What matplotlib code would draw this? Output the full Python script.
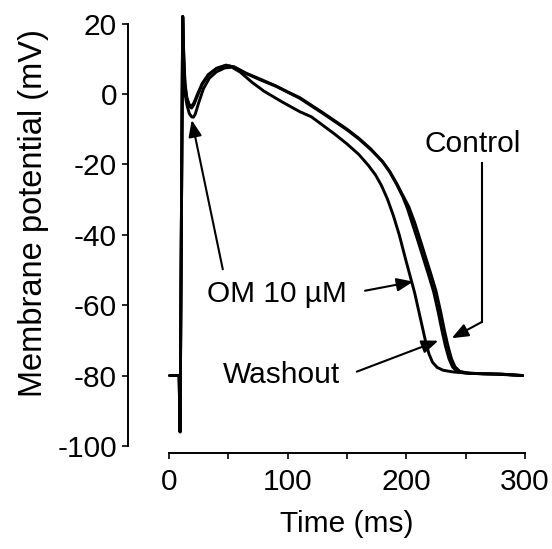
import matplotlib
matplotlib.use("Agg")
import matplotlib.pyplot as plt

plt.rcParams["font.family"] = ["Liberation Sans", "DejaVu Sans"]
plt.rcParams["font.size"] = 21.5
plt.rcParams["axes.unicode_minus"] = False

# action potential traces (ms, mV)
t_ctrl = [0.5, 8.5, 9.3, 11.5, 12.5, 13.5, 15, 17, 19, 21, 24, 28, 33, 40, 48, 55, 65, 77, 90, 100,
          110, 120, 130, 140, 150, 160, 170, 180, 186, 192, 197, 202, 207, 212, 217, 221, 225, 229,
          232, 235, 238, 241, 245, 252, 265, 280, 298]
v_ctrl = [-80, -80, -96, 22, 10, 3, -1, -3, -3.5, -2.5, 0, 3, 5.5, 7.3, 8.2, 7.6, 5.8, 4.0, 2.2, 0.5,
          -1.2, -3.4, -5.6, -7.9, -10.2, -12.8, -15.8, -19.2, -22.0, -25.5, -28.8, -32, -36.5, -41.8,
          -47.2, -51.5, -56, -62, -67, -71.5, -75.2, -77.5, -78.8, -79.3, -79.5, -79.6, -80]

t_wash = [0.5, 8.5, 9.3, 11.5, 12.5, 13.5, 15, 17, 19, 21, 24, 28, 33, 40, 48, 55, 65, 77, 90, 100,
          110, 120, 130, 140, 150, 160, 170, 180, 186, 192, 197, 201, 205, 210, 215, 219, 223,
          227, 230, 233, 236, 239, 243, 250, 265, 280, 298]
v_wash = [-80, -80, -96, 22, 9, 2, -1.5, -3.5, -4, -3, -0.5, 2.8, 5.3, 7.2, 8.1, 7.7, 5.9, 4.2, 2.3, 0.6,
          -1.0, -3.2, -5.4, -7.7, -10.0, -12.6, -15.6, -19.3, -22.2, -25.8, -29.2, -32.6, -36.8, -42,
          -47.4, -51.7, -56.2, -62.2, -67.2, -71.7, -75.3, -77.6, -78.9, -79.3, -79.5, -79.6, -80]

t_om = [0.5, 8.5, 9.3, 11.5, 12.5, 13.5, 15, 17, 19, 20.5, 22, 25, 29, 34, 40, 47, 53, 60, 70, 80,
        95, 110, 120, 130, 140, 150, 160, 168, 174, 179, 184, 189, 194, 199, 203, 207, 210, 213,
        216, 219, 222, 226, 231, 240, 255, 275, 298]
v_om = [-80, -80, -96, 22, 8, 0, -3, -5.5, -6.5, -6.6, -5.8, -2.5, 1.5, 4.5, 6.3, 7.4, 7.6, 6.2, 3.3, 0.8,
        -2.2, -5.0, -6.5, -9.0, -11.5, -14.2, -17.2, -20.3, -23, -26, -29.8, -34.5, -40, -46.5, -51.5,
        -56.5, -61, -65.5, -70, -73.8, -76.2, -77.7, -78.5, -79, -79.4, -79.6, -80]

xticks = [0, 100, 200, 300]
yticks = [20, 0, -20, -40, -60, -80, -100]

fig = plt.figure(figsize=(5.52, 5.49), dpi=100)
ax = fig.add_axes([0.2310, 0.1749, 0.7201, 0.8078])

for t, v in [(t_ctrl, v_ctrl), (t_wash, v_wash), (t_om, v_om)]:
    ax.plot(t, v, color="black", lw=2.1, solid_joinstyle="round", solid_capstyle="round", clip_on=False)

ax.set_xlim(-35, 300)
ax.set_ylim(-102, 24)
ax.spines["top"].set_visible(False)
ax.spines["right"].set_visible(False)
ax.spines["left"].set_bounds(-100, 20)
ax.spines["bottom"].set_bounds(0, 300)
ax.spines["left"].set_linewidth(1.4)
ax.spines["bottom"].set_linewidth(1.4)
ax.set_xticks(xticks)
ax.set_xticks(range(0, 301, 50), minor=True)
ax.set_yticks(yticks)
ax.tick_params(axis="y", direction="out", length=4, width=1.2, pad=3.5)
ax.tick_params(axis="x", which="both", direction="out", length=4.5, width=1.2, pad=6)

ax.set_xlabel("Time (ms)")
ax.xaxis.set_label_coords(0.552, -0.129)
ax.set_ylabel("Membrane potential (mV)", fontsize=23.5)
ax.yaxis.set_label_coords(-0.1975, 0.542)

arrow = dict(arrowstyle="-|>,head_length=0.5,head_width=0.2", color="black", lw=1.5,
             mutation_scale=20, shrinkA=0, shrinkB=0)

ax.text(31.8, -59.0, "OM 10 µM", ha="left", va="baseline")
ax.annotate("", xy=(19.1, -7.4), xytext=(45.3, -49.8), arrowprops=arrow)
ax.annotate("", xy=(205.9, -53.3), xytext=(165.2, -55.9), arrowprops=arrow)

ax.text(45.5, -82.1, "Washout", ha="left", va="baseline")
ax.annotate("", xy=(226.9, -70.1), xytext=(158.2, -78.9), arrowprops=arrow)

ax.text(215.7, -16.5, "Control", ha="left", va="baseline")
ax.plot([263.5, 263.5], [-19.6, -64.8], color="black", lw=1.5)
ax.annotate("", xy=(238.2, -69.4), xytext=(263.5, -64.8), arrowprops=arrow)

fig.savefig("out.png", dpi=100)
